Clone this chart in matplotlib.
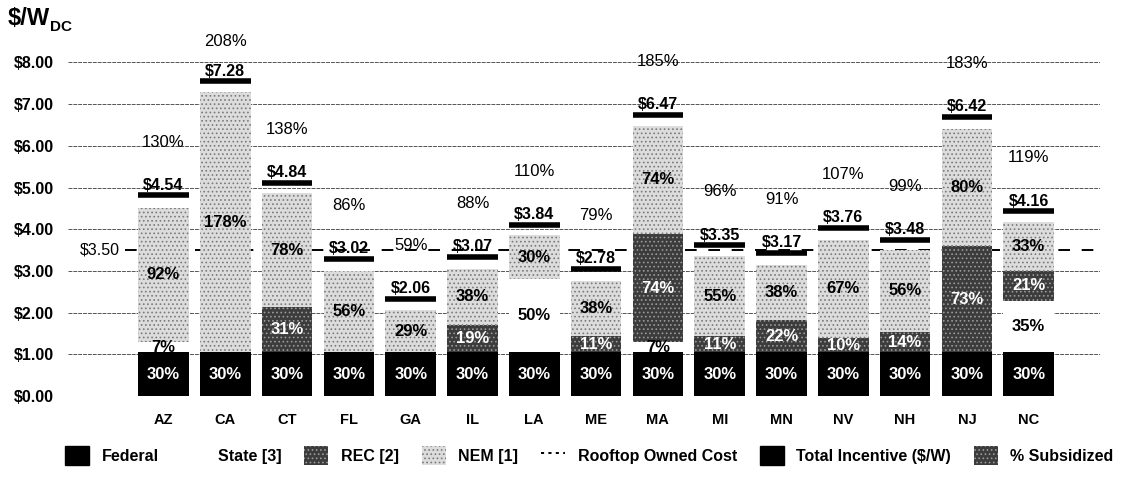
#!/usr/bin/env python3
# Stacked incentive bars per state, $/W_DC, with total incentive markers

import matplotlib
matplotlib.use("Agg")
import numpy as np
import matplotlib.pyplot as plt
from matplotlib.patches import Patch
from matplotlib.lines import Line2D

# Data (percent of rooftop owned cost)
states = ["AZ", "CA", "CT", "FL", "GA", "IL", "LA", "ME",
          "MA", "MI", "MN", "NV", "NH", "NJ", "NC"]
federal_pct = [30, 30, 30, 30, 30, 30, 30, 30, 30, 30, 30, 30, 30, 30, 30]
state_pct = [7, 0, 0, 0, 0, 0, 50, 0, 7, 0, 0, 0, 0, 0, 35]
rec_pct = [0, 0, 31, 0, 0, 19, 0, 11, 74, 11, 22, 10, 14, 73, 21]
nem_pct = [92, 178, 78, 56, 29, 38, 30, 38, 74, 55, 38, 67, 56, 80, 33]
total_usd = [4.54, 7.28, 4.84, 3.02, 2.06, 3.07, 3.84, 2.78,
             6.47, 3.35, 3.17, 3.76, 3.48, 6.42, 4.16]
subsidized_pct = [130, 208, 138, 86, 59, 88, 110, 79,
                  185, 96, 91, 107, 99, 183, 119]
rooftop_cost = 3.50

plt.rcParams["font.family"] = ["Liberation Sans", "DejaVu Sans"]
plt.rcParams["hatch.linewidth"] = 0.7

fig = plt.figure(figsize=(11.28, 4.79), dpi=100)
ax = fig.add_axes([0.06, 0.173, 0.915, 0.723])

x = np.arange(len(states))
width = 0.82

# segments in $/W
fed = np.array(federal_pct) / 100 * rooftop_cost
sta = np.array(state_pct) / 100 * rooftop_cost
rec = np.array(rec_pct) / 100 * rooftop_cost
nem = np.array(nem_pct) / 100 * rooftop_cost

rec_style = dict(facecolor="#3c3c3c", edgecolor="#9a9a9a",
                 hatch="....", linewidth=0)
nem_style = dict(facecolor="#dcdcdc", edgecolor="#7a7a7a",
                 hatch="....", linewidth=0)

layers = [
    (fed, federal_pct, dict(color="black"), "white"),
    (sta, state_pct, dict(color="white"), "black"),
    (rec, rec_pct, rec_style, "white"),
    (nem, nem_pct, nem_style, "black"),
]

bottom = np.zeros(len(states))
for vals, pcts, style, tcol in layers:
    ax.bar(x, vals, width, bottom=bottom, zorder=2, **style)
    for i in range(len(states)):
        if pcts[i] > 0:
            ax.text(x[i], bottom[i] + vals[i] / 2, f"{pcts[i]}%",
                    ha="center", va="center", fontsize=12,
                    fontweight="bold", color=tcol, zorder=4)
    bottom = bottom + vals

# total incentive markers and labels
for i in range(len(states)):
    y_line = total_usd[i] + 0.27
    ax.hlines(y_line, x[i] - width / 2, x[i] + width / 2,
              colors="black", lw=4, zorder=3)
    ax.text(x[i], y_line + 0.06, f"${total_usd[i]:.2f}", ha="center",
            va="bottom", fontsize=11.5, fontweight="bold", zorder=4)
    ax.text(x[i], min(total_usd[i] + 1.55, 8.5), f"{subsidized_pct[i]}%",
            ha="center", va="center", fontsize=12, zorder=4)

# rooftop owned cost line
ax.plot([-0.62, 15.1], [rooftop_cost, rooftop_cost], color="black",
        lw=1.4, ls=(0, (6, 6)), zorder=1)
ax.text(-0.7, rooftop_cost, f"${rooftop_cost:.2f}", ha="right",
        va="center", fontsize=11.5)

# axes styling
ax.set_xlim(-1.55, 15.15)
ax.set_ylim(0, 8.3)
ax.set_yticks(range(9))
ax.set_yticklabels([f"${v:.2f}" for v in range(9)],
                   fontsize=11.5, fontweight="bold")
ax.set_xticks(x)
ax.set_xticklabels(states, fontsize=10.5, fontweight="bold")
ax.tick_params(axis="y", length=0, pad=10)
ax.tick_params(axis="x", length=0, pad=12)
ax.yaxis.grid(True, color="#555555", lw=0.7, ls=(0, (4, 1)), zorder=0)
ax.set_axisbelow(True)
for s in ax.spines.values():
    s.set_visible(False)

fig.text(0.007, 0.962, "$/W", fontsize=17, fontweight="bold", va="center")
fig.text(0.044, 0.944, "DC", fontsize=11, fontweight="bold", va="center")

# legend
handles = [
    Patch(color="black"),
    Patch(color="white"),
    Patch(**rec_style),
    Patch(**nem_style),
    Line2D([], [], color="black", lw=1.4, ls=(0, (1.6, 2.2))),
    Patch(color="black"),
    Patch(**rec_style),
]
labels = ["Federal", "State [3]", "REC [2]", "NEM [1]",
          "Rooftop Owned Cost", "Total Incentive ($/W)", "% Subsidized"]
fig.legend(handles, labels, loc="lower left", ncol=7, mode="expand",
           bbox_to_anchor=(0.045, 0.0, 0.955, 0.1), frameon=False,
           prop=dict(size=11.5, weight="bold"), handlelength=1.5,
           handleheight=1.4, handletextpad=0.8)

fig.savefig("out.png", dpi=100)
